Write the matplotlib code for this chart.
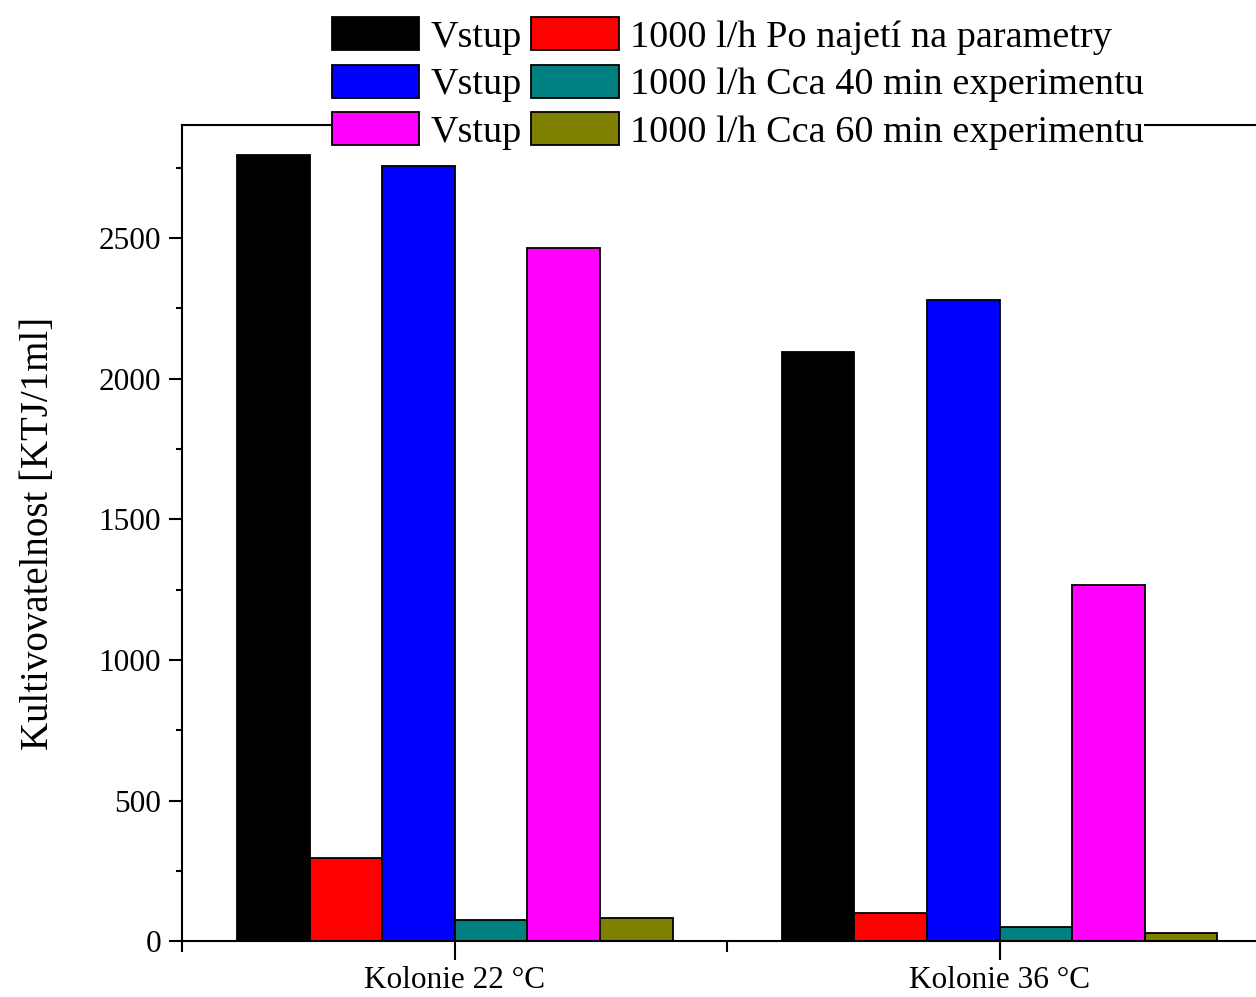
import matplotlib.pyplot as plt
import numpy as np
from matplotlib.ticker import MultipleLocator, FixedLocator

plt.rcParams['font.family'] = ['Liberation Serif', 'DejaVu Serif']

# Data
categories = ['Kolonie 22 °C', 'Kolonie 36 °C']
series_labels = ['Vstup', '1000 l/h Po najetí na parametry',
                 'Vstup', '1000 l/h Cca 40 min experimentu',
                 'Vstup', '1000 l/h Cca 60 min experimentu']
series_colors = ['#000000', '#ff0000', '#0000ff', '#008080', '#ff00ff', '#808000']
vstup_1 = [2795, 2093]
po_najeti = [295, 100]
vstup_2 = [2755, 2279]
cca_40 = [78, 50]
vstup_3 = [2464, 1265]
cca_60 = [82, 30]
series_values = [vstup_1, po_najeti, vstup_2, cca_40, vstup_3, cca_60]

fig = plt.figure(figsize=(12.56, 9.97), dpi=100)
ax = fig.add_axes([0.1453, 0.0557, 0.8674, 0.8186])

x = np.arange(1, len(categories) + 1)
n = len(series_values)
width = 0.8 / n
containers = []
for i, (vals, col, lab) in enumerate(zip(series_values, series_colors, series_labels)):
    c = ax.bar(x + (i - (n - 1) / 2) * width, vals, width, color=col,
               edgecolor='black', linewidth=1.3, label=lab, zorder=2)
    containers.append(c)

ax.set_xlim(0.5, 2.5)
ax.set_ylim(0, 2900)
ax.set_xticks(x)
ax.set_xticklabels(categories, fontsize=22.5)
ax.xaxis.set_minor_locator(FixedLocator([0.5, 1.5, 2.5]))
ax.yaxis.set_major_locator(MultipleLocator(500))
ax.yaxis.set_minor_locator(MultipleLocator(250))
ax.tick_params(axis='y', which='major', direction='out', length=9.5, width=1.5,
               labelsize=22.5, pad=6)
ax.tick_params(axis='y', which='minor', direction='out', length=4, width=1.5)
ax.tick_params(axis='x', which='major', direction='out', length=14, width=1.5,
               labelsize=22.5, pad=4)
ax.tick_params(axis='x', which='minor', direction='out', length=8, width=1.5)
for sp in ax.spines.values():
    sp.set_linewidth(1.5)

ax.set_ylabel('Kultivovatelnost [KTJ/1ml]', fontsize=28, labelpad=30)

# legend: first column holds the three inputs, second column the outlets
order = [0, 2, 4, 1, 3, 5]
leg = fig.legend([containers[k] for k in order], [series_labels[k] for k in order],
                 ncol=2, loc='upper left', bbox_to_anchor=(313 / 1256, 1 + 2 / 997),
                 frameon=True, fancybox=False, facecolor='white', edgecolor='none',
                 framealpha=1, borderpad=0, prop={'size': 27.5},
                 handlelength=2.28, handleheight=0.95, handletextpad=0.31,
                 columnspacing=0.24, labelspacing=0.26)

fig.savefig('out.png', dpi=100)
